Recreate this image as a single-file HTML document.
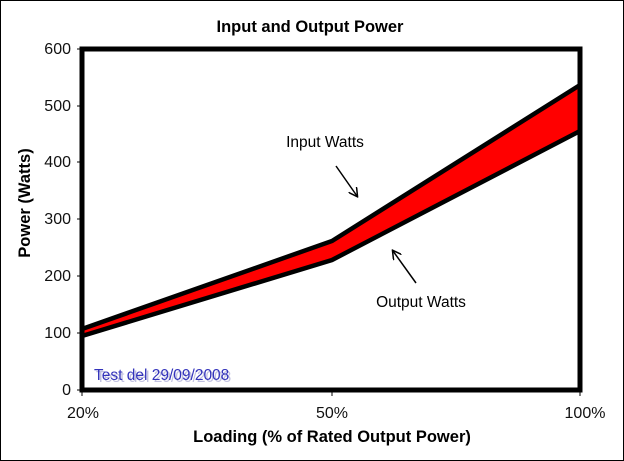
<!DOCTYPE html>
<html><head><style>
body{margin:0;background:#fff;}
svg{display:block;font-family:"Liberation Sans",Arial,sans-serif;}
</style></head><body>
<svg width="624" height="461" viewBox="0 0 624 461">
<rect x="0.5" y="0.5" width="623" height="460" fill="#fff" stroke="#000"/>
<text x="310" y="32" font-size="16.5" font-weight="bold" text-anchor="middle">Input and Output Power</text>
<defs><marker id="ah" markerWidth="10" markerHeight="10" refX="8" refY="5" orient="auto" markerUnits="userSpaceOnUse"><path d="M0,0 L9,5 L0,10" fill="none" stroke="#000" stroke-width="1.5"/></marker></defs>
<polygon points="82,329 332,241 580,85 580,131 332,260 82,336" fill="#ff0000"/>
<polyline points="82,329 332,241 580,85" fill="none" stroke="#000" stroke-width="4.5"/>
<polyline points="82,336 332,260 580,131" fill="none" stroke="#000" stroke-width="4.5"/>
<rect x="82" y="49" width="498" height="341" fill="none" stroke="#000" stroke-width="5"/>
<g stroke="#000" stroke-width="1">
<line x1="77" y1="49" x2="82" y2="49"/><line x1="77" y1="106" x2="82" y2="106"/><line x1="77" y1="162" x2="82" y2="162"/><line x1="77" y1="219" x2="82" y2="219"/><line x1="77" y1="276" x2="82" y2="276"/><line x1="77" y1="333" x2="82" y2="333"/><line x1="77" y1="390" x2="82" y2="390"/>
<line x1="82" y1="390" x2="82" y2="396"/><line x1="332" y1="390" x2="332" y2="396"/><line x1="580" y1="390" x2="580" y2="396"/>
</g>
<g font-size="16" text-anchor="end" fill="#111">
<text x="71" y="54">600</text><text x="71" y="111">500</text><text x="71" y="167">400</text><text x="71" y="224">300</text><text x="71" y="281">200</text><text x="71" y="338">100</text><text x="71" y="395">0</text>
</g>
<g font-size="16" text-anchor="middle" fill="#111">
<text x="83" y="418">20%</text><text x="332" y="418">50%</text><text x="585" y="418">100%</text>
</g>
<text x="332" y="442" font-size="16.5" font-weight="bold" text-anchor="middle">Loading (% of Rated Output Power)</text>
<text transform="translate(30,203) rotate(-90)" font-size="16.5" font-weight="bold" text-anchor="middle">Power (Watts)</text>
<text x="325" y="147" font-size="15.5" text-anchor="middle">Input Watts</text>
<line x1="336" y1="166" x2="357" y2="196" stroke="#000" stroke-width="1.5" marker-end="url(#ah)"/>
<text x="421" y="307" font-size="15.5" text-anchor="middle">Output Watts</text>
<line x1="416" y1="283" x2="393" y2="251" stroke="#000" stroke-width="1.5" marker-end="url(#ah)"/>
<text x="94" y="380" font-size="15.5" fill="#9999cc" opacity="0.6" transform="translate(2,2)">Test del 29/09/2008</text>
<text x="94" y="380" font-size="15.5" fill="#3333bb">Test del 29/09/2008</text>
</svg>
</body></html>
